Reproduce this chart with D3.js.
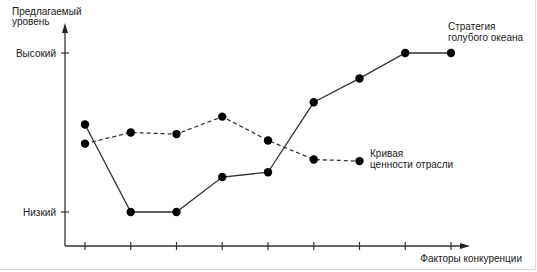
<!DOCTYPE html>
<html>
<head>
<meta charset="utf-8">
<script src="https://cdn.jsdelivr.net/npm/d3@7"></script>
<style>
  body { margin: 0; background: #fff; }
  text { font-family: "Liberation Sans", Arial, sans-serif; font-size: 10px; fill: #1a1a1a; }
</style>
</head>
<body>
<svg id="chart" width="537" height="272"></svg>
<script>
// factors along the x axis (9 ticks)
var factors = [1, 2, 3, 4, 5, 6, 7, 8, 9];
// offer level, 0 = Низкий, 1 = Высокий
var blueOcean = [0.55, 0.0, 0.0, 0.22, 0.25, 0.69, 0.84, 1.0, 1.0];
var industry = [0.43, 0.50, 0.49, 0.60, 0.45, 0.33, 0.32];
var levelTicks = [0, 1];
var levelLabels = ["Низкий", "Высокий"];

var svg = d3.select("#chart");

// light frame on right / bottom edges
svg.append("line").attr("x1", 535.5).attr("x2", 535.5).attr("y1", 0).attr("y2", 269.5)
  .attr("stroke", "#d8d8d8");
svg.append("line").attr("x1", 0).attr("x2", 535.5).attr("y1", 269.5).attr("y2", 269.5)
  .attr("stroke", "#d8d8d8");

var x = d3.scaleLinear().domain([1, 9]).range([85, 451]);
var y = d3.scaleLinear().domain([0, 1]).range([212, 53]);

var x0 = 65, yAxisY = 246;

// axes lines
svg.append("line").attr("x1", x0).attr("x2", x0).attr("y1", yAxisY).attr("y2", 30)
  .attr("stroke", "#333").attr("stroke-width", 1.3);
svg.append("line").attr("x1", x0).attr("x2", 463).attr("y1", yAxisY).attr("y2", yAxisY)
  .attr("stroke", "#333").attr("stroke-width", 1.3);
// arrowheads
svg.append("path").attr("d", "M" + x0 + ",23 L" + (x0 - 3) + ",33 L" + (x0 + 3) + ",33 Z").attr("fill", "#222");
svg.append("path").attr("d", "M470," + yAxisY + " L460," + (yAxisY - 3) + " L460," + (yAxisY + 3) + " Z").attr("fill", "#222");

// x ticks
svg.selectAll(".xtick").data(factors).enter().append("line")
  .attr("x1", function(d) { return x(d); }).attr("x2", function(d) { return x(d); })
  .attr("y1", yAxisY - 4).attr("y2", yAxisY + 4)
  .attr("stroke", "#333").attr("stroke-width", 1.2);

// y ticks + labels
svg.selectAll(".ytick").data(levelTicks).enter().append("line")
  .attr("x1", x0 - 4).attr("x2", x0 + 4)
  .attr("y1", function(d) { return y(d); }).attr("y2", function(d) { return y(d); })
  .attr("stroke", "#333").attr("stroke-width", 1.2);
svg.selectAll(".ylab").data(levelTicks).enter().append("text")
  .attr("x", 56).attr("y", function(d) { return y(d) + 3.5; })
  .attr("text-anchor", "end")
  .text(function(d, i) { return levelLabels[i]; });

var line = d3.line()
  .x(function(d, i) { return x(factors[i]); })
  .y(function(d) { return y(d); });

// industry value curve (dashed)
svg.append("path").datum(industry).attr("d", line)
  .attr("fill", "none").attr("stroke", "#333").attr("stroke-width", 1.3)
  .attr("stroke-dasharray", "4,3");
svg.selectAll(".ind").data(industry).enter().append("circle")
  .attr("cx", function(d, i) { return x(factors[i]); })
  .attr("cy", function(d) { return y(d); })
  .attr("r", 4.2).attr("fill", "#000");

// blue ocean strategy (solid)
svg.append("path").datum(blueOcean).attr("d", line)
  .attr("fill", "none").attr("stroke", "#333").attr("stroke-width", 1.3);
svg.selectAll(".bo").data(blueOcean).enter().append("circle")
  .attr("cx", function(d, i) { return x(factors[i]); })
  .attr("cy", function(d) { return y(d); })
  .attr("r", 4.2).attr("fill", "#000");

// texts
var t1 = svg.append("text").attr("x", 12).attr("y", 15);
t1.append("tspan").attr("x", 12).text("Предлагаемый");
t1.append("tspan").attr("x", 12).attr("dy", 10).text("уровень");

var t2 = svg.append("text").attr("x", 448).attr("y", 30);
t2.append("tspan").attr("x", 448).text("Стратегия");
t2.append("tspan").attr("x", 448).attr("dy", 10.5).text("голубого океана");

var t3 = svg.append("text").attr("x", 370).attr("y", 157);
t3.append("tspan").attr("x", 370).text("Кривая");
t3.append("tspan").attr("x", 370).attr("dy", 10.5).text("ценности отрасли");

svg.append("text").attr("x", 522).attr("y", 262).attr("text-anchor", "end").text("Факторы конкуренции");
</script>
</body>
</html>
